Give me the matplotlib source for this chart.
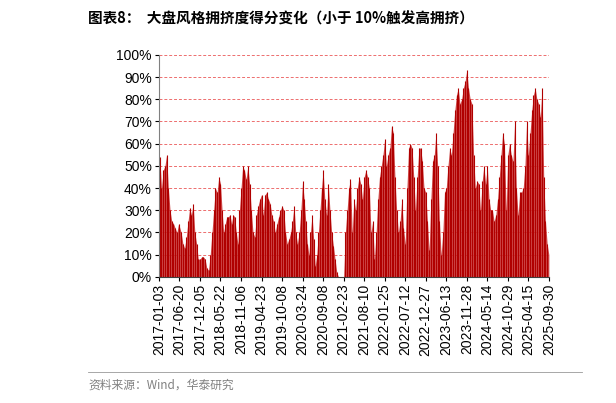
import numpy as np
import matplotlib
matplotlib.use("Agg")
import matplotlib.pyplot as plt

plt.rcParams['font.family'] = ['Liberation Sans', 'Noto Sans CJK SC', 'DejaVu Sans']

tick_labels = ["2017-01-03","2017-06-20","2017-12-05","2018-05-22","2018-11-06","2019-04-23",
               "2019-10-08","2020-03-24","2020-09-08","2021-02-23","2021-08-10","2022-01-25",
               "2022-07-12","2022-12-27","2023-06-13","2023-11-28","2024-05-14","2024-10-29",
               "2025-04-15","2025-09-30"]

seg_values = [
 [54,40,48,50,55,40,30,25,24,22,20,24],
 [20,15,13,18,25,31,28,33,20,15,8,8],
 [9,9,8,4,3,10,20,30,40,38,45,42],
 [30,20,24,27,27,28,24,28,27,20,15,30,40],
 [50,48,44,50,42,30,20,18,28,32,35,37],
 [28,37,38,35,33,28,25,20,24,27,30,32],
 [30,20,15,17,20,25,32,20,15,20,30,43],
 [35,25,15,10,20,28,17,5,10,20,30,40,48],
 [35,28,42,30,20,14,8,2,0,0,0,0],
 [20,30,40,44,20,35,30,40,45,42,35,45],
 [48,45,40,20,25,8,20,35,45,50,55,62],
 [50,55,58,68,65,45,30,20,25,35,22,15],
 [40,58,60,58,45,30,45,58,58,52,40,38],
 [25,12,35,52,55,65,50,25,10,20,38,40],
 [50,58,55,65,75,82,85,78,80,85,88,93],
 [85,80,78,55,40,43,42,30,43,50,42,50],
 [35,30,30,25,28,35,45,55,65,60,30,55],
 [60,55,52,70,40,28,38,38,40,50,70,55],
 [65,75,82,85,80,78,72,85,45,25,15,10],
]

fig = plt.figure(figsize=(6.16, 4.03), dpi=100)
ax = fig.add_axes([0.258, 0.313, 0.633, 0.551])

xs, ys = [], []
for i, seg in enumerate(seg_values):
    n = len(seg)
    xs.extend(np.linspace(i, i + 1, n + 1)[1:] if i > 0 else np.linspace(0, 1, n + 1)[:-1] + 0.5 / n)
    ys.extend(seg)
xs = np.array(xs); ys = np.array(ys) / 100.0

ax.fill_between(xs, 0, ys, color='#C62828', alpha=0.85, lw=0)
ax.vlines(xs, 0, ys, color='#B00000', lw=0.8)

ax.set_xlim(0, len(tick_labels) - 1)
ax.set_ylim(0, 1.0)
ax.set_xticks(range(len(tick_labels)))
ax.set_xticklabels(tick_labels, rotation=90, fontsize=10)
ax.set_yticks(np.arange(0, 1.01, 0.1))
ax.set_yticklabels([f"{int(round(v*100))}%" for v in np.arange(0, 1.01, 0.1)], fontsize=10)
ax.tick_params(length=3, pad=2)
for y in np.arange(0.1, 1.01, 0.1):
    ax.axhline(y, color='#E8494A', ls=(0, (3, 2)), lw=0.7, alpha=0.8, zorder=0)
for s in ['top', 'right']:
    ax.spines[s].set_visible(False)
ax.spines['left'].set_color('#808080')
ax.spines['bottom'].set_color('#404040')

fig.text(0.143, 0.955, "图表8：  大盘风格拥挤度得分变化（小于 10%触发高拥挤）", fontsize=10.5,
         fontweight='bold', va='center', ha='left', family=['Noto Sans CJK SC', 'DejaVu Sans'])
fig.add_artist(plt.Line2D([0.143, 0.945], [0.078, 0.078], color='#999999', lw=0.6))
fig.text(0.143, 0.045, "资料来源：Wind，华泰研究", fontsize=8.5, color='#808080', va='center',
         family=['Noto Sans CJK SC', 'DejaVu Sans'])

fig.savefig("out.png", dpi=100)
